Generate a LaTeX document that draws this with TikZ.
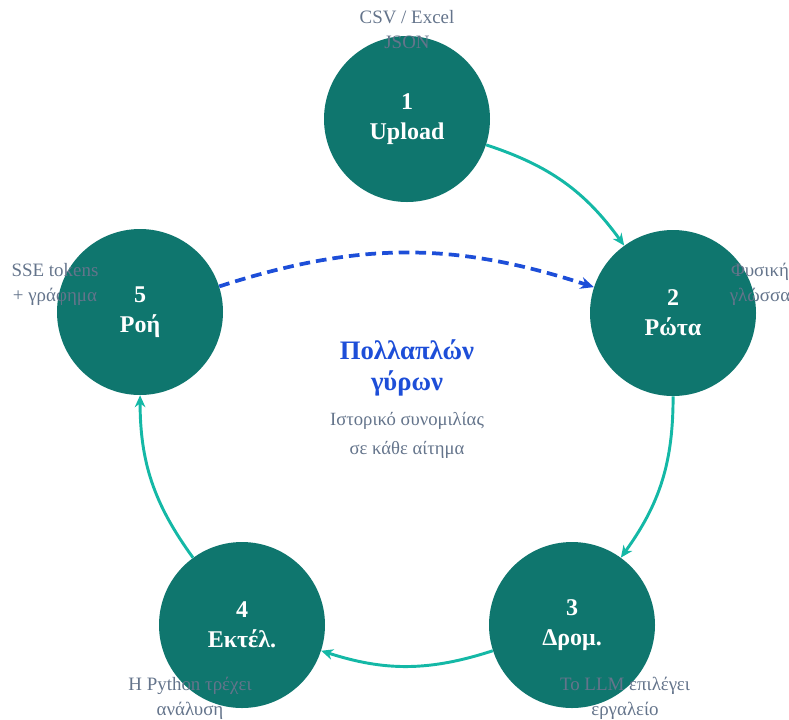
\documentclass[tikz,border=0pt]{standalone}
\usepackage{fontspec}
\setmainfont{Liberation Serif}
\usetikzlibrary{positioning,arrows.meta}
\definecolor{StageTeal}{HTML}{0F766E}
\definecolor{FlowTeal}{HTML}{14B8A6}
\definecolor{LoopBlue}{HTML}{1D4ED8}
\definecolor{NoteGray}{HTML}{64748B}
\tikzset{
  stage/.style={circle, fill=StageTeal, minimum size=124.5pt, inner sep=0pt, text=white, align=center,
    font=\bfseries\fontsize{18}{22.5}\selectfont},
  note/.style={text=NoteGray, align=center, font=\fontsize{14.2}{18.75}\selectfont},
  flow/.style={-{Stealth[length=9pt,width=8pt]}, draw=FlowTeal, line width=2.2pt, bend left=18},
  backflow/.style={-{Stealth[length=10pt,width=9pt]}, draw=LoopBlue, line width=2.8pt, bend left=18,
    dash pattern=on 8pt off 4.5pt}
}

\begin{document}
\begin{tikzpicture}[x=0.75pt, y=0.75pt]
  \useasboundingbox (0,0) rectangle (789,-719);
  % stages round the loop
  \node[stage] (n1) at (407,-119) {1\\Upload};
  \node[stage] (n2) at (673,-313) {2\\Ρώτα};
  \node[stage] (n3) at (572,-625) {3\\Δρομ.};
  \node[stage] (n4) at (242,-625) {4\\Εκτέλ.};
  \node[stage] (n5) at (140,-312) {5\\Ροή};
  \draw[flow] (n1) to (n2);
  \draw[flow] (n2) to (n3);
  \draw[flow] (n3) to (n4);
  \draw[flow] (n4) to (n5);
  \draw[backflow] (n5) to (n2);
  % notes beside the stages
  \node[note] (t1) at (407,-30) {CSV / Excel\\JSON};
  \node[note] (t2) at (760,-284) {Φυσική\\γλώσσα};
  \node[note] (t3) at (625,-698) {Το LLM επιλέγει\\εργαλείο};
  \node[note] (t4) at (190,-698) {Η Python τρέχει\\ανάλυση};
  \node[note] (t5) at (55,-284) {SSE tokens\\+ γράφημα};
  % centre
  \node[text=LoopBlue, align=center, font=\bfseries\fontsize{20}{23}\selectfont] (title) at (407,-368) {Πολλαπλών\\γύρων};
  \node[note, font=\fontsize{14}{21.75}\selectfont] (sub) at (407,-435) {Ιστορικό συνομιλίας\\σε κάθε αίτημα};
\end{tikzpicture}
\end{document}
